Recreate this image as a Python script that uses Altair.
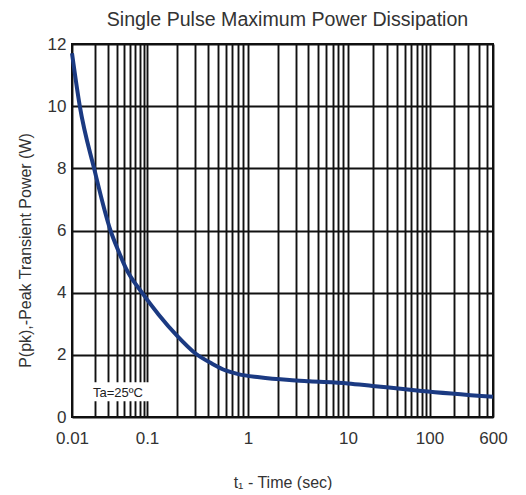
import altair as alt
import pandas as pd

# ---- data ----
time_s = [0.01, 0.0127, 0.0197, 0.0326, 0.0423, 0.052, 0.0858, 0.13, 0.2, 0.3,
          0.45, 0.6, 0.8, 1.3, 2.6, 4.1, 10, 20, 80, 600]
power_w = [11.7, 10.0, 8.0, 6.0, 5.3, 4.8, 4.0, 3.3, 2.6, 2.05,
           1.7, 1.5, 1.38, 1.28, 1.19, 1.15, 1.08, 1.0, 0.84, 0.65]

x_grid = [0.01, 0.02, 0.03, 0.04, 0.05, 0.06, 0.07, 0.08, 0.09,
          0.1, 0.2, 0.3, 0.4, 0.5, 0.6, 0.7, 0.8, 0.9,
          1, 2, 3, 4, 5, 6, 7, 8, 9,
          10, 20, 30, 40, 50, 60, 70, 80, 90,
          100, 200, 300, 400, 500, 600]
x_labels = [0.01, 0.1, 1, 10, 100, 600]
y_ticks = [0, 2, 4, 6, 8, 10, 12]

# the scanned chart's decades are not evenly spaced: piecewise log scale
x_breaks = [0.01, 0.1, 1, 10, 100, 600]
x_break_px = [0, 75, 176, 276, 357.5, 421]

note_t = [0.0169]
note_t2 = [0.107]
note_p = [0.51]
note_p2 = [1.12]
note_text_t = [0.041]
note_text_p = [0.76]
note_label = ["Ta=25ºC"]

FONT = "Liberation Sans"
TXT = "#333333"

curve = pd.DataFrame({"t": time_s, "p": power_w})
box = pd.DataFrame({"t": note_t, "t2": note_t2, "p": note_p, "p2": note_p2})
note = pd.DataFrame({"t": note_text_t, "p": note_text_p, "label": note_label})

xscale = alt.Scale(type="log", domain=x_breaks, range=x_break_px, nice=False)
yscale = alt.Scale(domain=[0, 12], nice=False, zero=False)

label_list = ",".join(str(v) for v in x_labels)
x_axis = alt.Axis(
    values=x_grid, grid=True, gridColor="#111111", gridWidth=1.9, gridOpacity=1,
    ticks=False, domain=False, format="~g",
    labelExpr=f"indexof([{label_list}], datum.value) >= 0 ? datum.label : ''",
    labelOverlap=False, labelFlush=False,
    labelFont=FONT, labelFontSize=17, labelColor=TXT, labelPadding=13,
    title="t₁ - Time (sec)", titleFont=FONT, titleFontSize=16,
    titleFontWeight="normal", titleColor=TXT, titlePadding=28,
)
y_axis = alt.Axis(
    values=y_ticks, grid=True, gridColor="#111111", gridWidth=1.9, gridOpacity=1,
    ticks=False, domain=False,
    labelFont=FONT, labelFontSize=17, labelColor=TXT, labelPadding=6,
    title="P(pk),-Peak Transient Power (W)", titleFont=FONT, titleFontSize=16,
    titleFontWeight="normal", titleColor=TXT, titlePadding=14, titleY=206,
)

X = lambda f: alt.X(f, type="quantitative", scale=xscale, axis=x_axis)
Y = lambda f: alt.Y(f, type="quantitative", scale=yscale, axis=y_axis)

line = alt.Chart(curve).mark_line(
    color="#1b3a82", strokeWidth=4, interpolate="monotone"
).encode(x=X("t"), y=Y("p"))

rect = alt.Chart(box).mark_rect(fill="white").encode(
    x=X("t"), x2="t2", y=Y("p"), y2="p2"
)

text = alt.Chart(note).mark_text(
    font=FONT, fontSize=13, color="#222222", baseline="middle", align="center"
).encode(x=X("t"), y=Y("p"), text="label:N")

chart = alt.layer(line, rect, text).properties(
    width=421, height=373,
    padding={"left": 9, "top": 2, "right": 6, "bottom": 0},
    title=alt.TitleParams(
        "Single Pulse Maximum Power Dissipation", font=FONT, fontSize=19.6,
        fontWeight="normal", color=TXT, anchor="middle", frame="group",
        offset=4, dx=5,
    ),
).configure_view(stroke="#111111", strokeWidth=2)

chart.save("out.html", embed_options={"renderer": "svg", "actions": False})
